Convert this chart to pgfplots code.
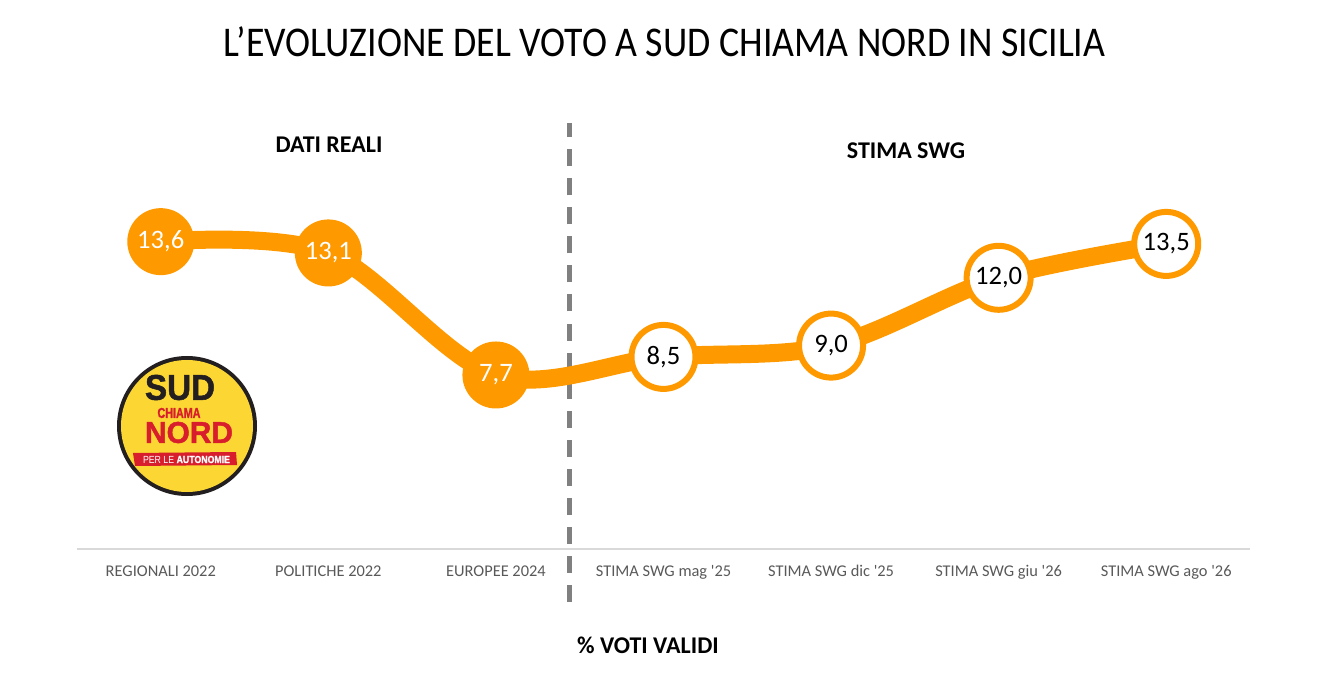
\documentclass[border=0pt]{standalone}
\usepackage{pgfplots}
\pgfplotsset{compat=1.18}
\usepackage{fontspec}
\setmainfont{Carlito}
\newfontfamily\lib[FakeBold=1.5]{Liberation Sans Bold}
\newfontfamily\libr{Liberation Sans}
\usetikzlibrary{shapes.geometric}
\definecolor{orng}{HTML}{FF9900}
\definecolor{tickgray}{HTML}{595959}
\definecolor{axgray}{HTML}{D9D9D9}
\definecolor{dashgray}{HTML}{808080}
\definecolor{logoyel}{HTML}{FCD733}
\definecolor{logored}{HTML}{D81E2C}
\definecolor{logoblk}{HTML}{231F20}
\begin{document}
\begin{tikzpicture}[x=0.5pt,y=0.5pt]
\useasboundingbox (0,0) rectangle (1332,686);
% title
\node[anchor=center,inner sep=0pt] at (664.5,644.5) {\scalebox{1}[1.12]{\fontsize{18.9}{20}\selectfont L’EVOLUZIONE DEL VOTO A SUD CHIAMA NORD IN SICILIA}};
\node[anchor=center,inner sep=0pt] at (329,541.5) {\fontsize{12}{14}\selectfont\bfseries DATI REALI};
\node[anchor=center,inner sep=0pt] at (906,535) {\fontsize{12}{14}\selectfont\bfseries STIMA SWG};
\node[anchor=center,inner sep=0pt] at (648,41) {\fontsize{12}{14}\selectfont\bfseries \% VOTI VALIDI};
% dashed separator
\draw[dashgray, line width=2.5pt, dash pattern=on 8.5pt off 6.025pt] (569,84) -- (569,563);
\begin{axis}[
  at={(38.5pt,68.5pt)}, anchor=south west,
  scale only axis, width=586.5pt, height=226pt,
  xmin=-0.5, xmax=6.5, ymin=0, ymax=20,
  hide y axis,
  axis x line*=bottom,
  x axis line style={draw=axgray, line width=0.8pt, -},
  xtick={0,...,6},
  xticklabels={REGIONALI 2022, POLITICHE 2022, EUROPEE 2024, STIMA SWG mag \textquotesingle25, STIMA SWG dic \textquotesingle25, STIMA SWG giu \textquotesingle26, STIMA SWG ago \textquotesingle26},
  major tick length=0pt,
  xticklabel style={font=\fontsize{8.2}{10}\selectfont, text=tickgray, anchor=base, yshift=-13.6pt},
  clip=false,
]
\addplot[orng, line width=9pt, smooth, tension=0.55] coordinates {(0,13.6) (1,13.1) (2,7.7) (3,8.5) (4,9.0) (5,12.0) (6,13.5)};
\addplot[only marks, mark=*, mark size=0.01pt, mark options={draw=none,fill=none},
  point meta=explicit symbolic,
  nodes near coords={\pgfplotspointmeta},
  every node near coord/.append style={circle, fill=orng, text=white, minimum size=33.5pt, inner sep=0pt, font=\fontsize{13.3}{14}\selectfont, anchor=center, yshift=0pt}]
  coordinates {(0,13.6) [13,6] (1,13.1) [13,1] (2,7.7) [7,7]};
\addplot[only marks, mark=*, mark size=0.01pt, mark options={draw=none,fill=none},
  point meta=explicit symbolic,
  nodes near coords={\pgfplotspointmeta},
  every node near coord/.append style={circle, draw=orng, line width=3pt, fill=white, text=black, minimum size=32pt, inner sep=0pt, font=\fontsize{13.3}{14}\selectfont, anchor=center, yshift=0pt}]
  coordinates {(3,8.5) [8,5] (4,9.0) [9,0] (5,12.0) [12,0] (6,13.5) [13,5]};
\end{axis}
% logo
\fill[logoblk] (187,260) circle (70);
\fill[logoyel] (187,260) circle (66);
\node[inner sep=0pt] at (180,298.5) {\textcolor{logoblk}{\resizebox{35pt}{12.5pt}{\lib SUD}}};
\node[inner sep=0pt] at (179,273) {\textcolor{logored}{\resizebox{21.5pt}{5pt}{\lib CHIAMA}}};
\node[inner sep=0pt] at (189,253.5) {\textcolor{logored}{\resizebox{44pt}{10.5pt}{\lib NORD}}};
\fill[logored] (135,220) -- (237,221) -- (236,234) -- (133,233) -- cycle;
\node[inner sep=0pt] at (186.5,226.5) {\textcolor{white}{\resizebox{43.5pt}{3.6pt}{\libr PER LE \lib AUTONOMIE}}};
\end{tikzpicture}
\end{document}
